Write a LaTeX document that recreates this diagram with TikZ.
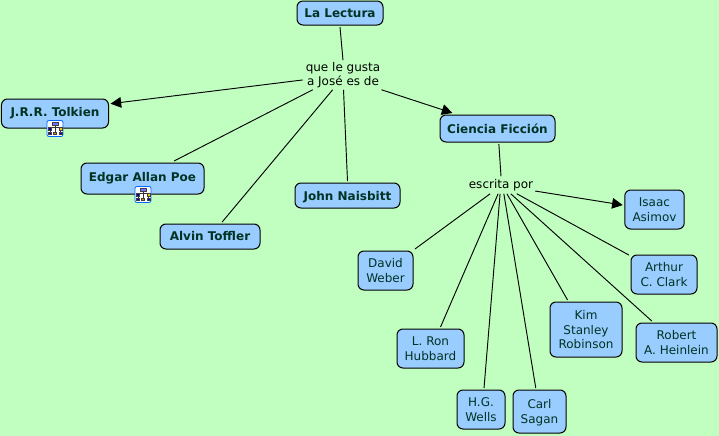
\documentclass[tikz,border=0pt]{standalone}
\usepackage{fontspec}
\setmainfont{DejaVu Sans}
\usetikzlibrary{arrows.meta}
\definecolor{fondo}{HTML}{C1FFC1}
\definecolor{caja}{HTML}{99CCFF}
\definecolor{letra}{HTML}{003322}
\tikzset{
  cajabase/.style={draw=black, line width=0.75pt, fill=caja, rounded corners=4.5pt, inner sep=0pt, outer sep=1.5pt, text=letra, align=center},
  tema/.style={cajabase, font=\fontsize{9}{11}\selectfont\bfseries},
  autor/.style={cajabase, text depth=-1.5pt, font=\fontsize{9}{11}\selectfont},
  enlace/.style={inner sep=0pt, align=center, text=black, font=\fontsize{9}{11}\selectfont},
  linea/.style={line width=0.7pt, black},
  flecha/.style={linea, -{Triangle[length=8pt,width=8pt]}},
  bloque/.style={draw=black!75, line width=0.25pt},
  iconomapa/.pic={
    \draw [draw=blue!60!cyan, fill=white, line width=0.6pt, rounded corners=1.5pt] (-8,-8) rectangle (8,8);
    \draw [line width=0.3pt, black!80] (0,-4) -- (0,4) (-5,-1) -- (5,-1) (-5,-1) -- (-5,4) (5,-1) -- (5,4);
    \filldraw [bloque, fill=blue!55] (-3,-6.5) rectangle (3,-3.5);
    \filldraw [bloque, fill=blue!70!black] (-7,-1) rectangle (-4,1.5);
    \filldraw [bloque, fill=yellow!60!orange] (4,-1) rectangle (7,1.5);
    \filldraw [bloque, fill=blue!70!black] (-7,3.5) rectangle (-4,6);
    \filldraw [bloque, fill=orange!70!brown] (-1.5,3.5) rectangle (1.5,6);
    \filldraw [bloque, fill=blue!70!black] (4,3.5) rectangle (7,6);
  }
}
\begin{document}
\begin{tikzpicture}[x=0.75pt, y=-0.75pt]
\useasboundingbox (0,0) rectangle (719,436);
\fill [fondo] (0,0) rectangle (719,436);
% temas
\node [tema, text depth=-1.5pt, minimum width=64.5pt, minimum height=18pt] (lectura) at (340,13) {La Lectura};
\node [tema, minimum width=80.25pt, minimum height=21.75pt] (tolkien) at (55,113.5) {J.R.R. Tolkien};
\node [tema, minimum width=92.25pt, minimum height=23.25pt] (poe) at (142.5,178.5) {Edgar Allan Poe};
\node [tema, text depth=-1.5pt, minimum width=78.75pt, minimum height=18.75pt] (naisbitt) at (347.5,195.5) {John Naisbitt};
\node [tema, minimum width=75pt, minimum height=18.75pt] (toffler) at (210,236.5) {Alvin Toffler};
\node [tema, minimum width=86.25pt, minimum height=20.25pt] (ciencia) at (497.5,128.5) {Ciencia Ficción};
% autores
\node [autor, minimum width=44.6pt, minimum height=29.25pt] (asimov) at (654.5,209.5) {Isaac\\Asimov};
\node [autor, minimum width=49.5pt, minimum height=29.25pt] (clark) at (664,274.5) {Arthur\\C. Clark};
\node [autor, minimum width=60.75pt, minimum height=29.25pt] (heinlein) at (676.5,342.5) {Robert\\A. Heinlein};
\node [autor, minimum width=54pt, minimum height=41.25pt] (robinson) at (586,329.5) {Kim\\Stanley\\Robinson};
\node [autor, minimum width=39.75pt, minimum height=32.25pt] (sagan) at (539.5,411.5) {Carl\\Sagan};
\node [autor, minimum width=36pt, minimum height=29.25pt] (wells) at (481,409.5) {H.G.\\Wells};
\node [autor, minimum width=50.25pt, minimum height=29.25pt] (hubbard) at (430.5,348.5) {L. Ron\\Hubbard};
\node [autor, minimum width=41.25pt, minimum height=29.25pt] (weber) at (385.5,270.5) {David\\Weber};
% enlaces
\node [enlace, minimum width=60pt, minimum height=21.75pt] (gusta) at (343,75) {que le gusta\\a José es de};
\node [enlace, minimum width=51pt, minimum height=12.75pt] (escrita) at (501,185) {escrita por};
% iconos
\pic at (55,128.5) {iconomapa};
\pic at (143,194.5) {iconomapa};
% lineas
\draw [linea] (lectura.south) -- (gusta.north);
\draw [flecha] (gusta.187) -- (tolkien.10);
\draw [linea] (gusta.206) -- (poe.29);
\draw [linea] (gusta.235) -- (toffler.50);
\draw [linea] (gusta.272) -- (naisbitt.north);
\draw [flecha] (gusta.339) -- (ciencia.161);
\draw [linea] (ciencia.-85) -- (escrita.north);
\draw [flecha] (escrita.350) -- (asimov.172);
\draw [linea] (escrita.219) -- (weber.north east);
\draw [linea] (escrita.252) -- (hubbard.65);
\draw [linea] (escrita.264) -- (wells.82);
\draw [linea] (escrita.288) -- (sagan.99);
\draw [linea] (escrita.304) -- (robinson.122);
\draw [linea] (escrita.318) -- (heinlein.139);
\draw [linea] (escrita.331) -- (clark.151);
\end{tikzpicture}
\end{document}
